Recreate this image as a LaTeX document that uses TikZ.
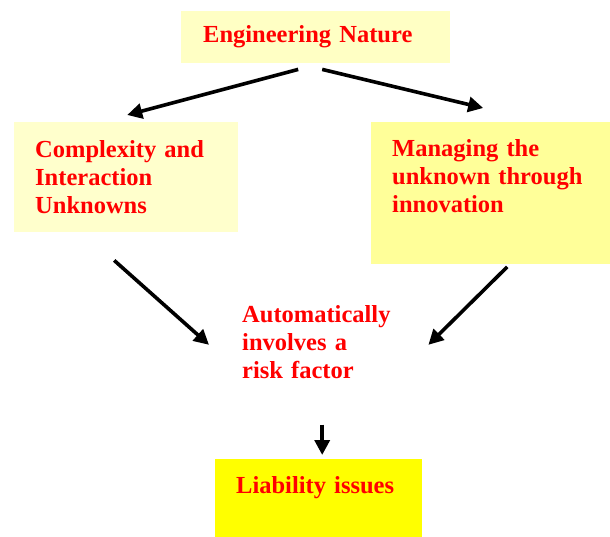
\documentclass[tikz,border=0pt]{standalone}
\usepackage{fontspec}
\setmainfont{Liberation Serif}
\usetikzlibrary{arrows.meta}
\definecolor{paleyellow}{HTML}{FFFFC4}
\definecolor{lightyellow}{HTML}{FFFFCC}
\definecolor{midyellow}{HTML}{FFFF99}
\definecolor{fullyellow}{HTML}{FFFF00}
\begin{document}
\begin{tikzpicture}[x=1pt,y=-1pt,
	txt/.style={text=red,font=\fontsize{24.5}{28}\selectfont\bfseries,align=left,anchor=north west},
	box/.style={txt,inner xsep=21pt},
	arr/.style={line width=3.6pt,-{Triangle[length=15pt,width=15pt]}}]
		\useasboundingbox (0,0) rectangle (610,536);
		\node[box,fill=paleyellow,text width=225pt,inner xsep=22pt,minimum height=52pt] (eng) at (181,11) {Engineering Nature};
		\node[box,fill=lightyellow,text width=182pt,minimum height=110pt] (cmp) at (14,122) {Complexity and\\Interaction\\Unknowns};
		\node[box,fill=midyellow,text width=197pt,inner ysep=17pt,text depth=90.5pt] (mng) at (371,122) {Managing the\\unknown through\\innovation};
		\node[txt,text width=153pt,inner xsep=33pt,inner ysep=0pt] (risk) at (209,305) {Automatically\\involves a\\risk factor};
		\node[box,fill=fullyellow,text width=165pt,inner ysep=17pt,text depth=27pt] (liab) at (215,459) {Liability issues};
		% top split
		\draw[arr] ([xshift=-17.5pt,yshift=-6pt]eng.south) -- ([xshift=1pt,yshift=7pt]cmp.north);
		\draw[arr] ([xshift=6.5pt,yshift=-6pt]eng.south) -- ([xshift=-7.5pt,yshift=14pt]mng.north);
		% both into the risk text
		\draw[arr] ([xshift=-12pt,yshift=-28pt]cmp.south) -- ([yshift=-3pt]risk.west);
		\draw[arr] ([xshift=16.5pt,yshift=-3pt]mng.south) -- ([yshift=-3pt]risk.east);
		\draw[arr,shorten <=46pt,shorten >=4pt] ([xshift=3.5pt]risk.south) -- ([xshift=3.5pt]liab.north);
\end{tikzpicture}
\end{document}
